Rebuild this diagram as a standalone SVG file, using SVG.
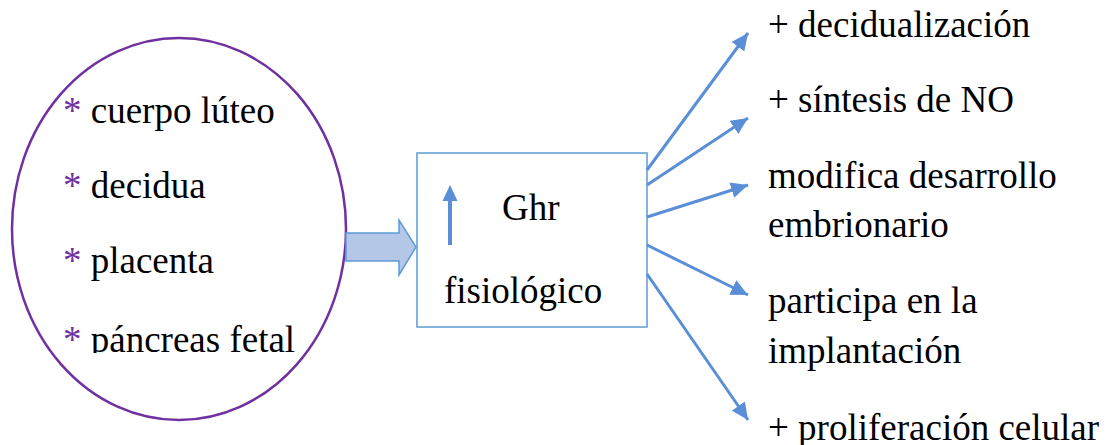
<svg xmlns="http://www.w3.org/2000/svg" width="1110" height="445" viewBox="0 0 1110 445" font-family="Liberation Serif, Times New Roman, serif">
  <defs>
    <marker id="head" markerUnits="userSpaceOnUse" markerWidth="18" markerHeight="16" refX="17" refY="8" orient="auto">
      <path d="M0,0 L17,8 L0,16 Z" fill="#5A8FD8"/>
    </marker>
    <clipPath id="ovalClip">
      <rect x="0" y="0" width="400" height="353"/>
    </clipPath>
  </defs>
  <rect width="1110" height="445" fill="#fff"/>

  <!-- sources -->
  <g id="sources">
    <ellipse cx="179" cy="229" rx="167" ry="191" fill="#fff" stroke="#7030A0" stroke-width="2.5"/>
    <g clip-path="url(#ovalClip)" font-family="Liberation Serif" font-size="37">
      <text x="63" y="123"><tspan fill="#7030A0">*</tspan> cuerpo lúteo</text>
      <text x="63" y="198"><tspan fill="#7030A0">*</tspan> decidua</text>
      <text x="63" y="273"><tspan fill="#7030A0">*</tspan> placenta</text>
      <text x="63" y="352"><tspan fill="#7030A0">*</tspan> páncreas fetal</text>
    </g>
  </g>

  <!-- block arrow into the box -->
  <g id="flow">
    <path d="M346,233 L399,233 L399,220 L416,247 L399,275 L399,261 L346,261 Z" fill="#B4C7E7" stroke="#5B9BD5" stroke-width="1.5"/>
  </g>

  <!-- central box -->
  <g id="ghr">
    <rect x="417" y="153" width="230" height="174" fill="#fff" stroke="#5B9BD5" stroke-width="1.5"/>
    <line x1="450" y1="245" x2="450" y2="198" stroke="#5A8FD8" stroke-width="4"/>
    <path d="M442.5,201 L450,185 L457.5,201 Z" fill="#5A8FD8"/>
    <text x="502" y="220" font-family="Liberation Serif" font-size="37">Ghr</text>
    <text x="444" y="303" font-family="Liberation Serif" font-size="37">fisiológico</text>
  </g>

  <!-- connectors -->
  <g id="connectors" stroke="#5A8FD8" stroke-width="3" fill="none">
    <line x1="647" y1="170" x2="748" y2="33" marker-end="url(#head)"/>
    <line x1="647" y1="185" x2="748" y2="118" marker-end="url(#head)"/>
    <line x1="647" y1="217" x2="748" y2="185" marker-end="url(#head)"/>
    <line x1="647" y1="245" x2="748" y2="295" marker-end="url(#head)"/>
    <line x1="647" y1="274" x2="748" y2="420" marker-end="url(#head)"/>
  </g>

  <!-- effects -->
  <g id="effects" font-family="Liberation Serif" font-size="37">
    <text x="768" y="37">+ decidualización</text>
    <text x="768" y="112">+ síntesis de NO</text>
    <text x="768" y="188">modifica desarrollo</text>
    <text x="768" y="237">embrionario</text>
    <text x="768" y="313">participa en la</text>
    <text x="768" y="363">implantación</text>
    <text x="768" y="440">+ proliferación celular</text>
  </g>
</svg>
